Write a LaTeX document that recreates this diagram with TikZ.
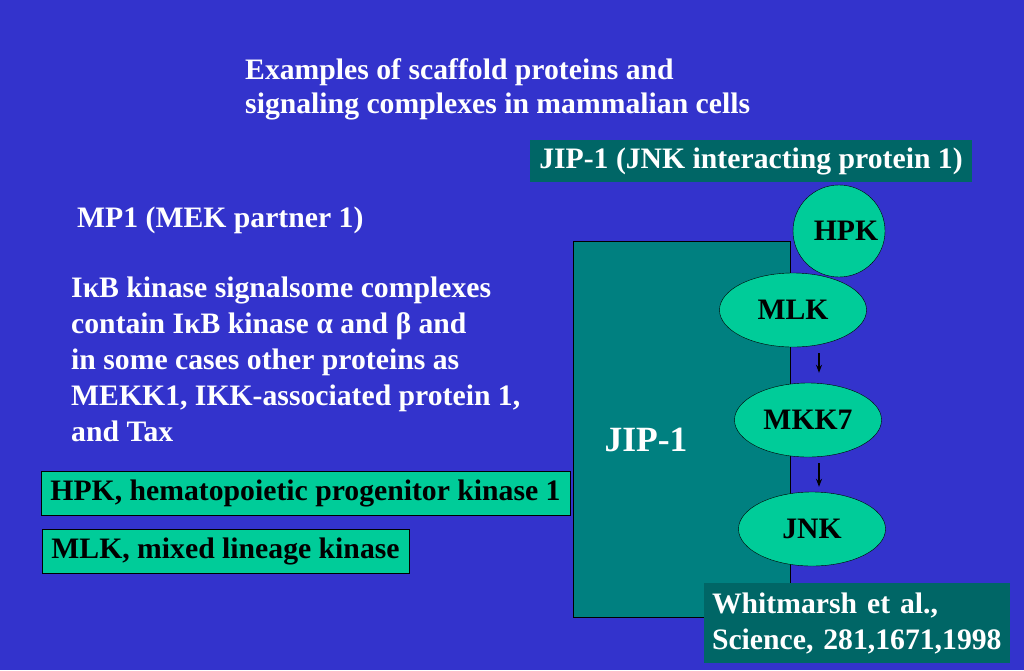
\documentclass[tikz,border=0pt]{standalone}
\usepackage{fontspec}
\setmainfont{Liberation Serif}
\usetikzlibrary{shapes.geometric,positioning,arrows.meta}
\definecolor{slideblue}{RGB}{51,51,204}
\definecolor{protgreen}{RGB}{0,204,153}
\definecolor{scaffold}{RGB}{0,128,128}
\definecolor{darkteal}{RGB}{0,102,102}

\begin{document}
\begin{tikzpicture}[x=1pt,y=-1pt,
	every node/.style={font=\bfseries\fontsize{29.7}{36}\selectfont},
	prot/.style={ellipse,draw=black,fill=protgreen,inner sep=0pt,minimum width=147,minimum height=74},
	namebox/.style={draw=black,fill=protgreen,inner sep=0pt,minimum height=44},
	darkbox/.style={fill=darkteal,text=white,inner sep=0pt},
	step arrow/.style={-{Stealth[length=8pt,width=6pt]},line width=1.3pt}]
	\fill[slideblue] (0,0) rectangle (1024,670);
	\node[text=white,align=left,anchor=west,inner sep=0pt,font=\bfseries\fontsize{29.7}{34}\selectfont] (title) at (245,89) {Examples of scaffold proteins and\\signaling complexes in mammalian cells};
	\node[darkbox,minimum width=442,minimum height=42] (banner) at (751,161) {JIP-1 (JNK interacting protein 1)};
	\node[text=white,anchor=west,inner sep=0pt] (mp1) at (77,220) {MP1 (MEK partner 1)};
	\node[text=white,align=left,anchor=west,inner sep=0pt] (ikb) at (71,359) {IκB kinase signalsome complexes\\contain IκB kinase α and β and\\in some cases other proteins as\\MEKK1, IKK-associated protein 1,\\and Tax};
	\node[namebox,minimum width=529] (hpkbox) at (305.5,493) {HPK, hematopoietic progenitor kinase 1};
	\node[namebox,minimum width=367] (mlkbox) at (225.5,551.5) {MLK, mixed lineage kinase};
	% scaffold
	\node[draw=black,fill=scaffold,minimum width=217,minimum height=376,inner sep=0pt] (jip) at (681.5,429) {};
	\node[text=white,font=\bfseries\fontsize{35.5}{40}\selectfont] (jiplabel) at (646,440) {JIP-1};
	\node[prot,circle,minimum size=92] (hpk) at (839,231) {\hspace*{14pt}HPK};
	\node[prot] (mlk) at (793,310) {MLK};
	\node[prot] (mkk) at (808,420) {MKK7};
	\node[prot] (jnk) at (812,529) {JNK};
	\draw[step arrow] ([xshift=26pt,yshift=-6pt]mlk.south) -- ([xshift=11pt,yshift=10pt]mkk.north);
	\draw[step arrow] ([xshift=11pt,yshift=-6pt]mkk.south) -- ([xshift=7pt,yshift=5pt]jnk.north);
	\node[darkbox,align=left,text width=290,minimum height=80,inner xsep=8pt] (cite) at (857,623) {\raisebox{-3pt}{Whitmarsh et al.,}\\\raisebox{-3pt}{Science, 281,1671,1998}};
\end{tikzpicture}
\end{document}
